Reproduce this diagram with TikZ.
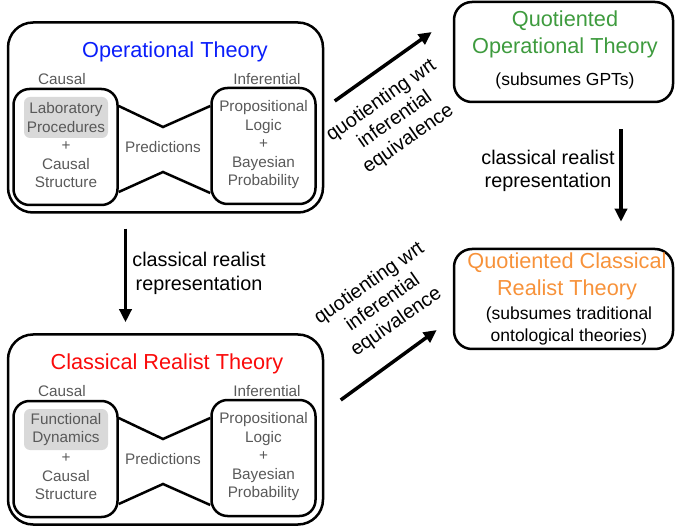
\documentclass[tikz,border=0pt]{standalone}
\usepackage{fontspec}
\setmainfont{Liberation Sans}
\usetikzlibrary{arrows.meta,calc}

\definecolor{opblue}{RGB}{10,30,250}
\definecolor{crred}{RGB}{250,10,10}
\definecolor{qgreen}{RGB}{62,155,62}
\definecolor{qorange}{RGB}{247,146,58}

\begin{document}
\begin{tikzpicture}[x=1pt,y=-1pt]
            \tikzset{
                theory/.style={draw, line width=2.5pt, rounded corners=25pt, minimum width=315pt, minimum height=190pt},
                part/.style={draw, line width=2.5pt, rounded corners=16pt, minimum width=104pt, minimum height=116pt},
                quot/.style={draw, line width=2.5pt, rounded corners=18pt, minimum width=219pt, minimum height=100pt},
                shaded/.style={fill=black!15, rounded corners=6pt, minimum width=84pt, minimum height=41pt, inner sep=0pt},
                small/.style={text=black!65, font=\fontsize{15.3}{18.5}\selectfont, align=center},
                title/.style={font=\fontsize{21.7}{27}\selectfont, align=center},
                note/.style={font=\fontsize{17.5}{22}\selectfont, align=center},
                lbl/.style={font=\fontsize{19.8}{23.5}\selectfont, align=center},
                arr/.style={line width=3.5pt, -{Triangle[length=13pt,width=12pt]}}
            }
            \useasboundingbox (0,0) rectangle (675,529);
            % the two theories with their causal and inferential parts
            \foreach \t/\dy/\tx/\name/\col/\proc in {op/0/175/Operational Theory/opblue/Laboratory\\Procedures,
                                                     cr/312/167/Classical Realist Theory/crred/Functional\\Dynamics} {
                \begin{scope}[yshift=-\dy pt]
                    \node[theory] (\t) at (165.5,117.5) {};
                    \node[title, text=\col] (\t-title) at (\tx,52) {\name};
                    \node[small] (\t-causal) at (62,79) {Causal};
                    \node[small] (\t-infer) at (267,79) {Inferential};
                    \node[part] (\t-l) at (65.5,147) {};
                    \node[part] (\t-r) at (263.5,146) {};
                    \node[small, shaded] (\t-proc) at (66,117.5) {\proc};
                    \node[small] (\t-struct) at (66,165) {+\\Causal\\Structure};
                    \node[small] (\t-logic) at (263.5,145) {Propositional\\Logic\\+\\Bayesian\\Probability};
                    \node[small] (\t-pred) at (163,147) {Predictions};
                    \coordinate (\t-top) at (163,127);
                    \coordinate (\t-bot) at (163,172);
                    \draw[line width=2.5pt] ($(\t-l.east)+(0,-41)$) -- (\t-top) -- ($(\t-r.west)+(0,-40)$);
                    \draw[line width=2.5pt] ($(\t-l.east)+(0,45)$) -- (\t-bot) -- ($(\t-r.west)+(0,47)$);
                \end{scope}
            }
            % quotiented theories
            \node[quot] (qop) at (563.5,52) {};
            \node[title, text=qgreen] (qop-title) at (565,34.5) {Quotiented\\Operational Theory};
            \node[note] (qop-note) at (565,81) {(subsumes GPTs)};
            \node[quot] (qcr) at (563.5,299) {};
            \node[title, text=qorange] (qcr-title) at (567,276.5) {Quotiented Classical\\Realist Theory};
            \node[note] (qcr-note) at (569,326) {(subsumes traditional\\ontological theories)};
            % arrows
            \draw[arr] ([shift={(-40,15)}]op.south) -- ([shift={(-40,-11)}]cr.north);
            \node[lbl] (crl) at (199,273.5) {classical realist\\representation};
            \draw[arr] ([shift={(57.5,26)}]qop.south) -- ([shift={(57.5,-26)}]qcr.north);
            \node[lbl] (crr) at (548,171) {classical realist\\representation};
            \draw[arr] ([shift={(10.5,-16.5)}]op.east) -- ([shift={(-21,-20)}]qop.west);
            \node[lbl, rotate=35] (qtop) at (395,120) {quotienting wrt\\inferential\\equivalence};
            \draw[arr] ([shift={(16.5,-29.5)}]cr.east) -- ([shift={(-16,31)}]qcr.west);
            \node[lbl, rotate=35] (qbot) at (383,303) {quotienting wrt\\inferential\\equivalence};
        \end{tikzpicture}
\end{document}
